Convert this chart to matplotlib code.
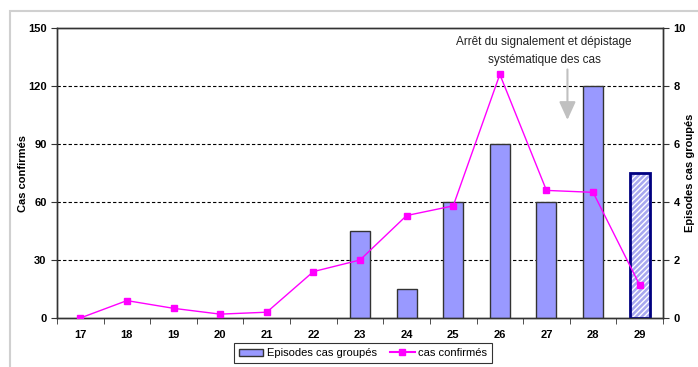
import numpy as np
import matplotlib
matplotlib.use("Agg")
import matplotlib.pyplot as plt
from matplotlib.patches import Rectangle, Patch
from matplotlib.lines import Line2D

# DATA
weeks = ["17", "18", "19", "20", "21", "22", "23", "24", "25", "26", "27", "28", "29"]
cas_confirmes = [0, 9, 5, 2, 3, 24, 30, 53, 58, 126, 66, 65, 17]
episodes = [0, 0, 0, 0, 0, 0, 3, 1, 4, 6, 4, 8, 5]
hatched_week = "29"

plt.rcParams['font.family'] = ['Liberation Sans', 'DejaVu Sans']

W, H = 698, 367
fig = plt.figure(figsize=(W / 100, H / 100), dpi=100)
# light grey outer frame
fig.patches.append(Rectangle((10 / W, -0.1), 1.0, 1 - 11 / H + 0.1,
                             transform=fig.transFigure, fill=False,
                             edgecolor="#d0d0d0", linewidth=1.5))

ax = fig.add_axes([57 / W, 1 - 318 / H, 606 / W, 290 / H])
ax2 = ax.twinx()
ax.set_zorder(ax2.get_zorder() + 1)
ax.patch.set_visible(False)

x = np.arange(len(weeks))

# bars (right axis)
for i, (w, v) in enumerate(zip(weeks, episodes)):
    if v == 0:
        continue
    if w == hatched_week:
        # light fill with white diagonal hatching, then dark outline
        ax2.bar(x[i], v, width=0.43, color="#a8a8f0", edgecolor="white",
                linewidth=0, hatch="//////", zorder=3)
        ax2.bar(x[i], v, width=0.43, fill=False, edgecolor="#000080",
                linewidth=2, zorder=4)
    else:
        ax2.bar(x[i], v, width=0.43, color="#9999ff", edgecolor="#333333",
                linewidth=1, zorder=3)

# line (left axis)
ax.plot(x, cas_confirmes, color="#ff00ff", linewidth=1, marker="s",
        markersize=4.5, zorder=5)

ax.set_xlim(-0.5, len(weeks) - 0.5)
ax.set_ylim(0, 150)
ax2.set_ylim(0, 10)
ax.set_yticks([0, 30, 60, 90, 120, 150])
ax2.set_yticks([0, 2, 4, 6, 8, 10])

for yv in [30, 60, 90, 120]:
    ax2.axhline(yv / 15, color="black", linestyle=(0, (3, 2)), linewidth=0.8, zorder=1)

# category boundary ticks
ax.set_xticks(x)
ax.set_xticklabels(weeks, fontweight="bold", fontsize=8)
ax.tick_params(axis="x", length=0, pad=9)
ax.set_xticks(np.arange(-0.5, len(weeks), 1), minor=True)
ax.tick_params(axis="x", which="minor", length=4, direction="out", color="#333333")

for a in (ax, ax2):
    a.tick_params(axis="y", labelsize=8, length=4, color="#333333")
    for lab in a.get_yticklabels():
        lab.set_fontweight("bold")
    for s in a.spines.values():
        s.set_color("#333333")
        s.set_linewidth(1)

ax.set_ylabel("Cas confirmés", fontsize=8, fontweight="bold")
ax.yaxis.set_label_coords((28 - 57) / 606, 0.5)
ax2.set_ylabel("Episodes cas groupés", fontsize=8, fontweight="bold", va="center")
ax2.yaxis.set_label_coords((690 - 57) / 606, 0.5)

ax.text(9.95, 146, "Arrêt du signalement et dépistage\nsystématique des cas",
        ha="center", va="top", fontsize=8.5, linespacing=1.75, color="#222222")
ax.annotate("", xy=(10.45, 101), xytext=(10.45, 130),
            arrowprops=dict(arrowstyle="-|>,head_width=0.5,head_length=1.1",
                            color="#c0c0c0", lw=1.5))

# legend
handles = [Patch(facecolor="#9999ff", edgecolor="#333333", label="Episodes cas groupés"),
           Line2D([], [], color="#ff00ff", marker="s", markersize=4, label="cas confirmés")]
leg = fig.legend(handles=handles, loc="upper left", bbox_to_anchor=(234 / W, 1 - 343 / H),
                 ncol=2, fontsize=8, frameon=True, fancybox=False,
                 handlelength=2.2, handleheight=0.6, columnspacing=1.2,
                 borderpad=0.45, handletextpad=0.3, borderaxespad=0)
leg.get_frame().set_edgecolor("black")
leg.get_frame().set_linewidth(0.8)

fig.savefig("out.png", dpi=100)
